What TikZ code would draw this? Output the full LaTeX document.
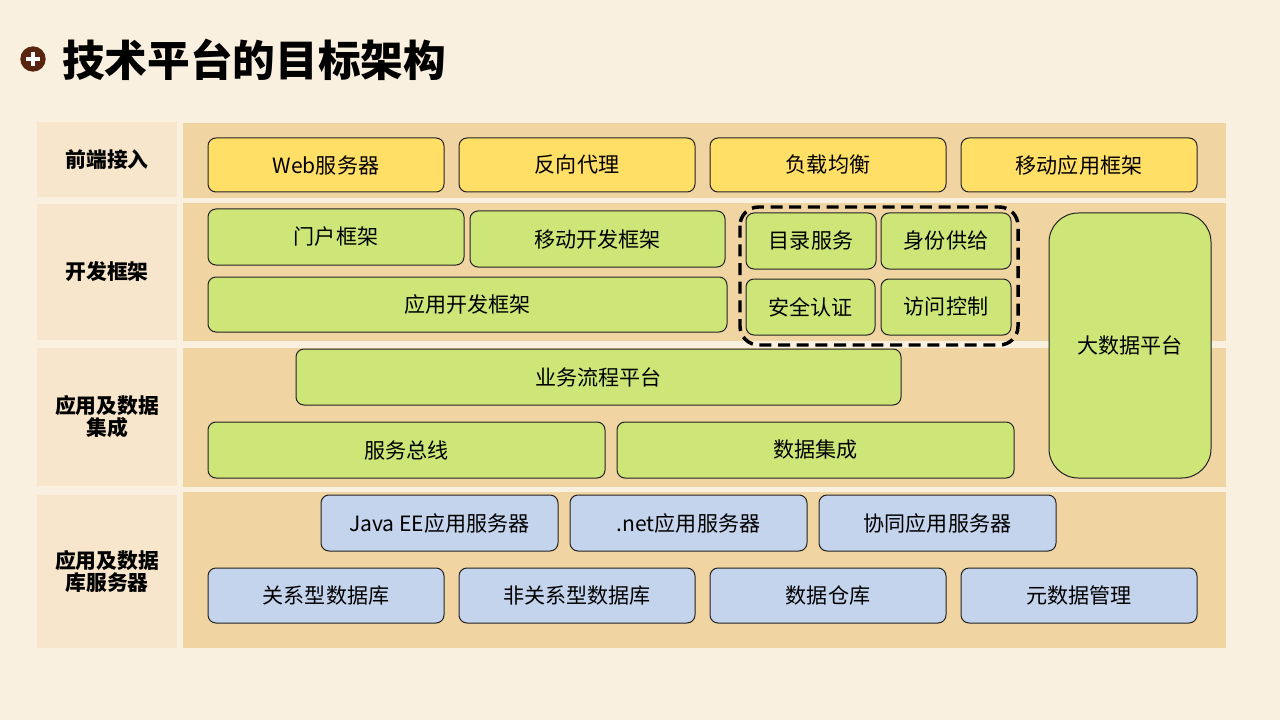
\documentclass[tikz,border=0pt]{standalone}
\usepackage{fontspec}
\newfontfamily\cjk{Noto Sans CJK SC}
\usetikzlibrary{calc}
\definecolor{bgc}{HTML}{FAF0DF}
\definecolor{lblc}{HTML}{F7E6CB}
\definecolor{bandc}{HTML}{F0D4A2}
\definecolor{yel}{HTML}{FFDF66}
\definecolor{grn}{HTML}{CDE677}
\definecolor{blu}{HTML}{C4D4ED}
\definecolor{iconc}{HTML}{5A2510}
\definecolor{edgec}{HTML}{222222}
\newcommand\bx[7]{\node[#2, minimum width={(#5-#3)*0.75pt}, minimum height={(#6-#4)*0.75pt}] (#1) at ({(#3+#5)/2},{(#4+#6)/2}) {#7};}
\tikzset{
  base/.style={draw=edgec, line width=0.75pt, rounded corners=6pt, inner sep=0pt, font=\cjk\fontsize{15.8}{18}\selectfont, text=black},
  ybox/.style={base, fill=yel},
  gbox/.style={base, fill=grn},
  bbox/.style={base, fill=blu},
  lbl/.style={fill=lblc, inner sep=0pt, align=center, font=\cjk\bfseries\fontsize{15.6}{16.5}\selectfont},
  band/.style={fill=bandc, inner sep=0pt},
}
\begin{document}
\begin{tikzpicture}[x=0.75pt,y=-0.75pt]
\useasboundingbox (0,0) rectangle (1280,720);
\fill[bgc] (0,0) rectangle (1280,720);
% title
\node[circle, fill=iconc, minimum size=19pt, inner sep=0pt] (icon) at (33,59) {};
\fill[white] ($(icon)+(-7,-2)$) rectangle ($(icon)+(7,2)$);
\fill[white] ($(icon)+(-2,-7)$) rectangle ($(icon)+(2,7)$);
\node[anchor=west, inner sep=0pt, font=\cjk\bfseries\fontsize{32}{36}\selectfont] (title) at (62,60) {技术平台的目标架构};
% bands
\bx{b1}{band}{183}{123}{1226}{198}{}
\bx{b2}{band}{183}{203}{1226}{341}{}
\bx{b3}{band}{183}{348}{1226}{487}{}
\bx{b4}{band}{183}{492}{1226}{648}{}
% labels
\bx{l1}{lbl}{37}{122}{177}{197}{前端接入}
\bx{l2}{lbl}{37}{204}{177}{340}{开发框架}
\bx{l3}{lbl}{37}{348}{177}{486}{应用及数据\\集成}
\bx{l4}{lbl}{37}{495}{177}{648}{应用及数据\\库服务器}
% row 1
\bx{web}{ybox}{208}{138}{444}{192}{Web服务器}
\bx{proxy}{ybox}{459}{138}{695}{192}{反向代理}
\bx{lb}{ybox}{710}{138}{946}{192}{负载均衡}
\bx{mobf}{ybox}{961}{138}{1197}{192}{移动应用框架}
% row 2
\bx{portal}{gbox}{208}{209}{464}{265}{门户框架}
\bx{mobdev}{gbox}{470}{211}{725}{267}{移动开发框架}
\bx{appdev}{gbox}{208}{277}{727}{332}{应用开发框架}
\draw[line width=2.6pt, dash pattern=on 9pt off 5pt, rounded corners=14pt] (740,207) rectangle (1018,345);
\bx{dir}{gbox}{746}{213}{876}{269}{目录服务}
\bx{idp}{gbox}{881}{213}{1011}{269}{身份供给}
\bx{auth}{gbox}{746}{279}{875}{335}{安全认证}
\bx{acc}{gbox}{881}{279}{1011}{335}{访问控制}
\bx{bigdata}{gbox, rounded corners=22pt}{1049}{213}{1211}{478}{大数据平台}
% row 3
\bx{bpm}{gbox}{296}{349}{901}{405}{业务流程平台}
\bx{esb}{gbox}{208}{422}{605}{478}{服务总线}
\bx{di}{gbox}{617}{422}{1014}{478}{数据集成}
% row 4
\bx{jee}{bbox}{321}{495}{558}{551}{Java EE应用服务器}
\bx{net}{bbox}{570}{495}{807}{551}{.net应用服务器}
\bx{coop}{bbox}{819}{495}{1056}{551}{协同应用服务器}
\bx{rdb}{bbox}{208}{568}{444}{623}{关系型数据库}
\bx{nosql}{bbox}{459}{568}{695}{623}{非关系型数据库}
\bx{dw}{bbox}{710}{568}{946}{623}{数据仓库}
\bx{meta}{bbox}{961}{568}{1197}{623}{元数据管理}
\end{tikzpicture}
\end{document}
